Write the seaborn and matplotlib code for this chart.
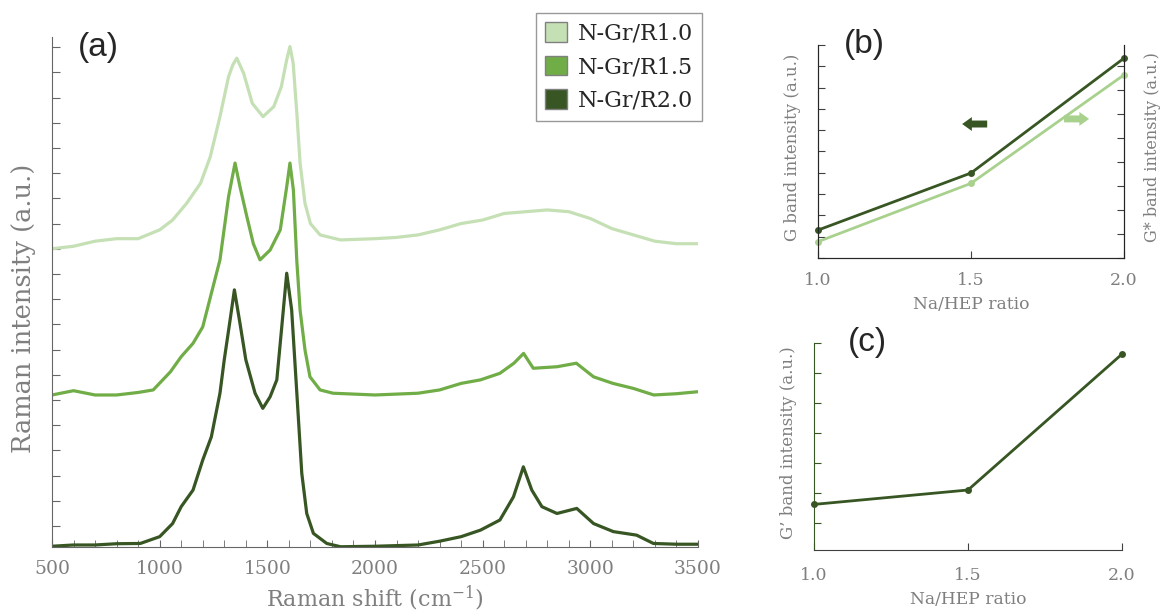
import pandas as pd
import matplotlib
matplotlib.use("Agg")
import matplotlib.pyplot as plt
from matplotlib.patches import Patch
from matplotlib.ticker import MultipleLocator
import seaborn as sns

# Raman spectra (stacked, intensity in tick units)
shift_r10 = [500, 600, 700, 800, 900, 1000, 1060, 1125, 1190, 1235, 1280, 1320, 1340, 1358, 1390,
             1430, 1480, 1530, 1565, 1590, 1605, 1620, 1637, 1652, 1675, 1700, 1745, 1840, 2000, 2100,
             2200, 2300, 2400, 2500, 2600, 2700, 2800, 2900, 3000, 3100, 3200, 3300, 3400, 3500]
int_r10 = [11.0, 11.1, 11.3, 11.4, 11.4, 11.75, 12.14, 12.8, 13.6, 14.65, 16.24, 17.83, 18.3, 18.56, 17.96,
           16.77, 16.24, 16.64, 17.43, 18.5, 19.02, 18.36, 16.38, 14.4, 12.8, 12.0, 11.55, 11.35, 11.4, 11.45,
           11.55, 11.75, 12.0, 12.14, 12.4, 12.47, 12.54, 12.47, 12.2, 11.8, 11.55, 11.3, 11.2, 11.2]

shift_r15 = [500, 600, 700, 800, 900, 970, 1000, 1050, 1100, 1155, 1200, 1240, 1280, 1320, 1350,
             1373, 1405, 1435, 1466, 1513, 1560, 1590, 1605, 1621, 1637, 1652, 1675, 1698, 1745, 1805,
             2000, 2200, 2300, 2400, 2490, 2580, 2645, 2690, 2735, 2845, 2935, 3015, 3105, 3200, 3295,
             3400, 3500]
int_r15 = [5.2, 5.37, 5.2, 5.2, 5.3, 5.4, 5.67, 6.12, 6.72, 7.25, 7.9, 9.23, 10.56, 13.07, 14.4,
           13.46, 12.27, 11.2, 10.56, 10.95, 11.75, 13.46, 14.4, 13.33, 10.5, 8.57, 6.98, 5.92, 5.4, 5.27,
           5.2, 5.27, 5.4, 5.66, 5.8, 6.06, 6.46, 6.85, 6.26, 6.32, 6.46, 5.92, 5.66, 5.46, 5.2,
           5.25, 5.33]

shift_r20 = [500, 600, 700, 800, 910, 1000, 1060, 1100, 1155, 1200, 1240, 1280, 1300, 1327, 1347,
             1373, 1400, 1443, 1479, 1513, 1544, 1567, 1590, 1613, 1637, 1660, 1683, 1714, 1776, 1840,
             2000, 2200, 2300, 2400, 2490, 2580, 2643, 2689, 2728, 2775, 2845, 2937, 3015, 3107, 3215,
             3293, 3400, 3500]
int_r20 = [-0.8, -0.75, -0.75, -0.7, -0.69, -0.42, 0.1, 0.77, 1.43, 2.62, 3.54, 5.27, 6.6, 8.17, 9.37,
           8.04, 6.6, 5.27, 4.67, 5.13, 5.8, 7.9, 10.03, 8.57, 5.27, 2.09, 0.5, -0.29, -0.69, -0.82,
           -0.8, -0.75, -0.6, -0.42, -0.16, 0.24, 1.16, 2.35, 1.43, 0.77, 0.5, 0.7, 0.1, -0.22, -0.36,
           -0.69, -0.72, -0.72]

samples = ['N-Gr/R1.0', 'N-Gr/R1.5', 'N-Gr/R2.0']
colors = ['#c5e0b4', '#70ad47', '#375623']

# band intensities vs Na/HEP ratio
ratio = [1.0, 1.5, 2.0]
g_band = [1.31, 3.99, 9.38]
g_star_band = [0.68, 3.11, 7.63]
g_prime_band = [0.62, 1.10, 5.63]

dark = '#375623'
light_b = '#a9d18e'
grey = '#7f7f7f'

sns.set_style('ticks')
plt.rcParams['font.family'] = ['DejaVu Serif', 'DejaVu Sans']
plt.rcParams['mathtext.fontset'] = 'dejavuserif'

spectra = pd.concat([
    pd.DataFrame({'shift': shift_r10, 'intensity': int_r10, 'sample': samples[0]}),
    pd.DataFrame({'shift': shift_r15, 'intensity': int_r15, 'sample': samples[1]}),
    pd.DataFrame({'shift': shift_r20, 'intensity': int_r20, 'sample': samples[2]}),
])

W, H = 1164, 615
fig = plt.figure(figsize=(W / 100, H / 100), dpi=100)


def box(l, t, r, b):
    return [l / W, 1 - b / H, (r - l) / W, (b - t) / H]


panel_font = dict(family=['Liberation Sans', 'DejaVu Sans'], fontsize=24, va='center', ha='left')

# (a) Raman spectra
ax = fig.add_axes(box(52, 37, 698, 547))
sns.lineplot(data=spectra, x='shift', y='intensity', hue='sample', palette=colors,
             estimator=None, sort=False, legend=False, lw=2.3, ax=ax)
ax.set_xlim(500, 3500)
ax.set_ylim(-0.83, 19.4)
ax.xaxis.set_major_locator(MultipleLocator(500))
ax.xaxis.set_minor_locator(MultipleLocator(100))
ax.yaxis.set_major_locator(MultipleLocator(1))
ax.set_yticklabels([])
sns.despine(ax=ax)
for s in ['left', 'bottom']:
    ax.spines[s].set_color('#666666')
ax.tick_params(which='both', direction='in', length=5, colors='#666666', labelcolor=grey,
               labelsize=13.5, pad=9)
ax.tick_params(axis='y', length=6)
ax.set_xlabel('Raman shift (cm$^{\\mathregular{-1}}$)', fontsize=16, color=grey)
ax.xaxis.set_label_coords(0.5, -0.072)
ax.set_ylabel('Raman intensity (a.u.)', fontsize=18.5, color=grey)
ax.yaxis.set_label_coords(-0.024, 0.467)
ax.text(0.04, 0.98, '(a)', transform=ax.transAxes, **panel_font)
handles = [Patch(facecolor=c, edgecolor='#808080', label=s) for c, s in zip(colors, samples)]
fig.legend(handles=handles, loc='upper right', bbox_to_anchor=(702 / W, 1 - 13 / H),
           fontsize=16, frameon=True, fancybox=False, edgecolor='#999999',
           handlelength=1.0, handleheight=1.0, handletextpad=0.5, labelspacing=0.5,
           borderpad=0.4, borderaxespad=0, framealpha=1)

# (b) G and G* band intensity
axb = fig.add_axes(box(818, 45, 1124, 258))
sns.lineplot(x=ratio, y=g_band, color=dark, marker='o', markersize=5, markeredgewidth=0,
             lw=2, ax=axb, clip_on=False)
axb2 = axb.twinx()
sns.lineplot(x=ratio, y=g_star_band, color=light_b, marker='o', markersize=5, markeredgewidth=0,
             lw=2, ax=axb2, clip_on=False)
axb.set_xlim(1.0, 2.0)
axb.set_ylim(0, 10)
axb2.set_ylim(0, 8.875)
axb.set_xticks(ratio)
axb.yaxis.set_major_locator(MultipleLocator(1))
axb2.yaxis.set_major_locator(MultipleLocator(1))
axb.set_yticklabels([])
axb2.set_yticklabels([])
axb.spines['top'].set_visible(False)
axb2.spines['top'].set_visible(False)
axb.spines['left'].set_color('#404040')
axb2.spines['right'].set_color('#222222')
axb.spines['bottom'].set_color('#404040')
for a in (axb, axb2):
    a.tick_params(direction='in', length=5, colors='#404040', labelcolor=grey, labelsize=12.5, pad=10)
axb.set_xticklabels(['1.0', '1.5', '2.0'])
axb.set_xlabel('Na/HEP ratio', fontsize=12.3, color=grey)
axb.xaxis.set_label_coords(0.5, -0.18)
axb.set_ylabel('G band intensity (a.u.)', fontsize=12, color=grey)
axb.yaxis.set_label_coords(-0.055, 0.52)
axb2.set_ylabel('G* band intensity (a.u.)', fontsize=11.5, color=grey, rotation=90)
axb2.yaxis.set_label_coords(1.065, 0.52)
axb.text(0.085, 1.0, '(b)', transform=axb.transAxes, **panel_font)
axb.annotate('', xy=(0.462, 0.629), xytext=(0.562, 0.629), xycoords='axes fraction',
             arrowprops=dict(arrowstyle='simple,head_length=0.7,head_width=1.0,tail_width=0.5',
                             mutation_scale=10, color=dark, lw=0))
axb.annotate('', xy=(0.895, 0.653), xytext=(0.795, 0.653), xycoords='axes fraction',
             arrowprops=dict(arrowstyle='simple,head_length=0.7,head_width=1.0,tail_width=0.5',
                             mutation_scale=10, color=light_b, lw=0))

# (c) G' band intensity
axc = fig.add_axes(box(814, 343, 1122, 550))
sns.lineplot(x=ratio, y=g_prime_band, color=dark, marker='o', markersize=5, markeredgewidth=0,
             lw=2, ax=axc, clip_on=False)
axc.set_xlim(1.0, 2.0)
axc.set_ylim(-0.9, 6)
axc.set_xticks(ratio)
axc.set_xticklabels(['1.0', '1.5', '2.0'])
axc.yaxis.set_major_locator(MultipleLocator(1))
axc.set_yticklabels([])
sns.despine(ax=axc)
axc.spines['left'].set_color(dark)
axc.spines['bottom'].set_color('#404040')
axc.tick_params(axis='x', direction='in', length=5, colors='#404040', labelcolor=grey,
                labelsize=12.5, pad=12)
axc.tick_params(axis='y', direction='in', length=5, colors=dark)
axc.set_xlabel('Na/HEP ratio', fontsize=12.3, color=grey)
axc.xaxis.set_label_coords(0.5, -0.2)
axc.set_ylabel('G\u2019 band intensity (a.u.)', fontsize=12, color=grey)
axc.yaxis.set_label_coords(-0.055, 0.52)
axc.text(0.11, 1.0, '(c)', transform=axc.transAxes, **panel_font)

fig.savefig('out.png', dpi=100)
